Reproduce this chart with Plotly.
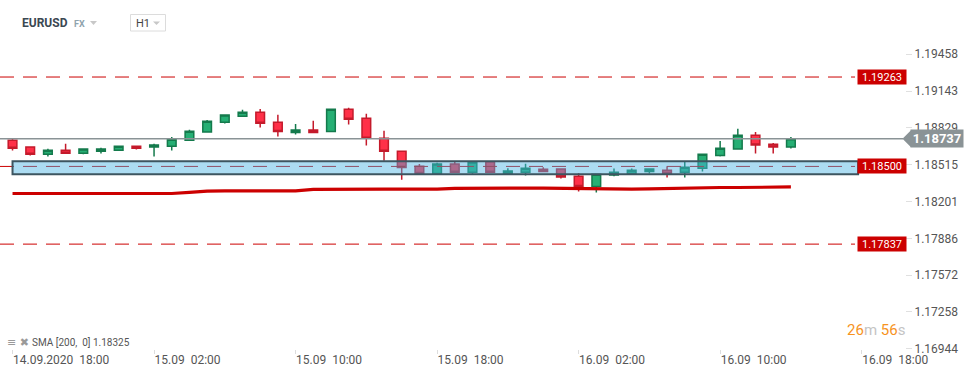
import pandas as pd
import plotly.graph_objects as go

# ---------------- data ----------------
times = pd.date_range("2020-09-14 18:00", periods=45, freq="h")

opens = [1.18724, 1.18665, 1.18605, 1.18639, 1.18613, 1.18630, 1.18639, 1.18673, 1.18665, 1.18673,
         1.18724, 1.18793, 1.18878, 1.18929, 1.18963, 1.18878, 1.18789, 1.18810, 1.18798, 1.18989,
         1.18912, 1.18741, 1.18630, 1.18502, 1.18439, 1.18520, 1.18451, 1.18539, 1.18439, 1.18451,
         1.18477, 1.18479, 1.18417, 1.18328, 1.18426, 1.18439, 1.18456, 1.18468, 1.18451, 1.18485,
         1.18593, 1.18648, 1.18767, 1.18690, 1.18665]
highs = [1.18741, 1.18668, 1.18650, 1.18693, 1.18650, 1.18659, 1.18676, 1.18676, 1.18693, 1.18752,
         1.18812, 1.18897, 1.18941, 1.18983, 1.18991, 1.18940, 1.18863, 1.18889, 1.18992, 1.19000,
         1.18949, 1.18804, 1.18633, 1.18520, 1.18531, 1.18542, 1.18540, 1.18542, 1.18485, 1.18522,
         1.18494, 1.18482, 1.18443, 1.18437, 1.18482, 1.18482, 1.18482, 1.18502, 1.18542, 1.18608,
         1.18718, 1.18821, 1.18793, 1.18699, 1.18752]
lows = [1.18636, 1.18593, 1.18584, 1.18610, 1.18605, 1.18610, 1.18636, 1.18644, 1.18584, 1.18636,
        1.18720, 1.18790, 1.18866, 1.18926, 1.18832, 1.18755, 1.18772, 1.18786, 1.18795, 1.18857,
        1.18678, 1.18548, 1.18386, 1.18436, 1.18436, 1.18448, 1.18437, 1.18448, 1.18436, 1.18422,
        1.18453, 1.18397, 1.18286, 1.18277, 1.18417, 1.18436, 1.18439, 1.18405, 1.18405, 1.18456,
        1.18584, 1.18645, 1.18610, 1.18610, 1.18653]
closes = [1.18656, 1.18605, 1.18639, 1.18613, 1.18648, 1.18648, 1.18673, 1.18656, 1.18682, 1.18733,
          1.18801, 1.18886, 1.18938, 1.18963, 1.18869, 1.18798, 1.18810, 1.18789, 1.18989, 1.18903,
          1.18741, 1.18630, 1.18490, 1.18439, 1.18520, 1.18451, 1.18537, 1.18451, 1.18460, 1.18485,
          1.18456, 1.18409, 1.18328, 1.18434, 1.18451, 1.18468, 1.18479, 1.18439, 1.18494, 1.18605,
          1.18656, 1.18767, 1.18682, 1.18665, 1.18737]
sma200 = [1.18269, 1.18269, 1.18269, 1.18269, 1.18269, 1.18269, 1.18269, 1.18269, 1.18269, 1.18269,
          1.18279, 1.18289, 1.18292, 1.18293, 1.18292, 1.18289, 1.18292, 1.18304, 1.18306, 1.18306,
          1.18306, 1.18306, 1.18306, 1.18306, 1.18306, 1.18313, 1.18315, 1.18315, 1.18315, 1.18315,
          1.18315, 1.18313, 1.18311, 1.18309, 1.18306, 1.18306, 1.18309, 1.18313, 1.18317, 1.18320,
          1.18320, 1.18320, 1.18320, 1.18320, 1.18325]

level_lines = [1.19263, 1.18500, 1.17837]
zone_low, zone_high = 1.18434, 1.18545
last_price = 1.18737

y_tickvals = [1.19458, 1.19143, 1.18829, 1.18515, 1.18201, 1.17886, 1.17572, 1.17258, 1.16944]
x_tickvals = ["2020-09-14 18:00", "2020-09-15 02:00", "2020-09-15 10:00", "2020-09-15 18:00",
              "2020-09-16 02:00", "2020-09-16 10:00", "2020-09-16 18:00"]
x_ticktext = ["14.09.2020\u00a0\u00a018:00", "15.09\u00a0\u00a002:00", "15.09\u00a0\u00a010:00",
              "15.09\u00a0\u00a018:00", "16.09\u00a0\u00a002:00", "16.09\u00a0\u00a010:00",
              "16.09\u00a0\u00a018:00"]

# ---------------- layout helpers ----------------
W, H = 974, 375
ML, MR, MT, MB = 0, 69, 38, 26
PW, PH = W - ML - MR, H - MT - MB
def px(x):
    return (x - ML) / PW
def py(y):
    return (H - MB - y) / PH

Y_RANGE = [1.16942, 1.19596]
X_RANGE = ["2020-09-14 17:17:30", "2020-09-16 20:27:00"]
FONT = "Roboto"

fig = go.Figure()
fig.add_trace(go.Candlestick(
    x=times, open=opens, high=highs, low=lows, close=closes,
    increasing=dict(fillcolor="#26af74", line=dict(color="#147a4c", width=1.5)),
    decreasing=dict(fillcolor="#ff3048", line=dict(color="#c41a2b", width=1.5)),
    whiskerwidth=0, showlegend=False, hoverinfo="skip"))
fig.add_trace(go.Scatter(x=times, y=sma200, mode="lines",
                         line=dict(color="#cc0000", width=3.2), showlegend=False, hoverinfo="skip"))

shapes = []
# dashed red levels
for lv in level_lines:
    shapes.append(dict(type="line", xref="paper", yref="y", x0=0, x1=px(855), y0=lv, y1=lv,
                       line=dict(color="#cc0000", width=1, dash="14px,9px"), layer="above"))
# zone
shapes.append(dict(type="rect", xref="x", yref="y", x0=times[0], x1="2020-09-16 17:48",
                   y0=zone_low, y1=zone_high, fillcolor="rgba(70,178,226,0.45)",
                   line=dict(color="#3d5560", width=2), layer="above"))
# last price line
shapes.append(dict(type="line", xref="paper", yref="y", x0=0, x1=px(903), y0=last_price, y1=last_price,
                   line=dict(color="#8a9396", width=1.5), layer="above"))
d = 8.5 / (PH / (Y_RANGE[1] - Y_RANGE[0]))
shapes.append(dict(type="path", xref="paper", yref="y",
                   path=f"M {px(902.5)},{last_price} L {px(911)},{last_price + d} L {px(911)},{last_price - d} Z",
                   fillcolor="#8a9396", line=dict(width=0), layer="above"))
# header dropdown triangles and H1 box
shapes.append(dict(type="path", xref="paper", yref="paper",
                   path=f"M {px(90)},{py(21)} L {px(97)},{py(21)} L {px(93.5)},{py(25)} Z",
                   fillcolor="#c8c8c8", line=dict(width=0)))
shapes.append(dict(type="rect", xref="paper", yref="paper", x0=px(130.5), x1=px(165.5), y0=py(31), y1=py(14.5),
                   fillcolor="white", line=dict(color="#dcdcdc", width=1)))
shapes.append(dict(type="path", xref="paper", yref="paper",
                   path=f"M {px(153)},{py(21.5)} L {px(160)},{py(21.5)} L {px(156.5)},{py(25)} Z",
                   fillcolor="#c8c8c8", line=dict(width=0)))

ann = []
for lv in level_lines:
    ann.append(dict(xref="paper", yref="y", x=px(857), y=lv, xanchor="left", yanchor="middle",
                    text=f"{lv:.5f}", showarrow=False, bgcolor="#cc0000", width=46, height=12,
                    borderpad=1, font=dict(family=FONT, size=11, color="white")))
ann.append(dict(xref="paper", yref="y", x=px(910), y=last_price, xanchor="left", yanchor="middle",
                text=f"<b>{last_price:.5f}</b>", showarrow=False, bgcolor="#8a9396", width=50, height=15,
                borderpad=1, font=dict(family=FONT, size=13, color="white")))
ann.append(dict(xref="paper", yref="paper", x=px(20), y=py(23), xanchor="left", yanchor="middle",
                text="<b>EURUSD</b>", showarrow=False, font=dict(family=FONT, size=12, color="#3b4852")))
ann.append(dict(xref="paper", yref="paper", x=px(72), y=py(24), xanchor="left", yanchor="middle",
                text="<b>FX</b>", showarrow=False, font=dict(family=FONT, size=9, color="#8fa3ad")))
ann.append(dict(xref="paper", yref="paper", x=px(134), y=py(23), xanchor="left", yanchor="middle",
                text="H1", showarrow=False, font=dict(family=FONT, size=11, color="#444")))
ann.append(dict(xref="paper", yref="paper", x=px(5), y=py(342), xanchor="left", yanchor="middle",
                text="≡ ✖", showarrow=False, font=dict(family="DejaVu Sans", size=11, color="#9a9a9a")))
ann.append(dict(xref="paper", yref="paper", x=px(30), y=py(342), xanchor="left", yanchor="middle",
                text="SMA [200,  0] 1.18325", showarrow=False, font=dict(family=FONT, size=10, color="#555")))
ann.append(dict(xref="paper", yref="paper", x=px(907), y=py(330), xanchor="right", yanchor="middle",
                text="<span style='color:#f7931e'>26</span><span style='color:#c4c4c4'>m</span> "
                     "<span style='color:#f7931e'>56</span><span style='color:#c4c4c4'>s</span>",
                showarrow=False, font=dict(family=FONT, size=15)))

fig.update_layout(
    width=W, height=H, margin=dict(l=ML, r=MR, t=MT, b=MB),
    paper_bgcolor="white", plot_bgcolor="white",
    font=dict(family=FONT, size=12, color="#555"),
    shapes=shapes, annotations=ann, boxgap=0.3,
    xaxis=dict(type="date", range=X_RANGE, rangeslider=dict(visible=False), showgrid=False,
               zeroline=False, showline=False, tickvals=x_tickvals, ticktext=x_ticktext,
               ticks="outside", ticklen=4, tickcolor="#dddddd", ticklabelposition="outside right",
               tickfont=dict(family=FONT, size=12, color="#555")),
    yaxis=dict(side="right", range=Y_RANGE, showgrid=False, zeroline=False, showline=False,
               tickvals=y_tickvals, ticktext=[f"{v:.5f}" for v in y_tickvals],
               ticks="outside", ticklen=6, tickcolor="#e0e0e0",
               tickfont=dict(family=FONT, size=12, color="#555")),
)

fig.write_html("out.html", config={"displayModeBar": False},
               post_script="document.body.style.margin='0';document.body.style.overflow='hidden';")
